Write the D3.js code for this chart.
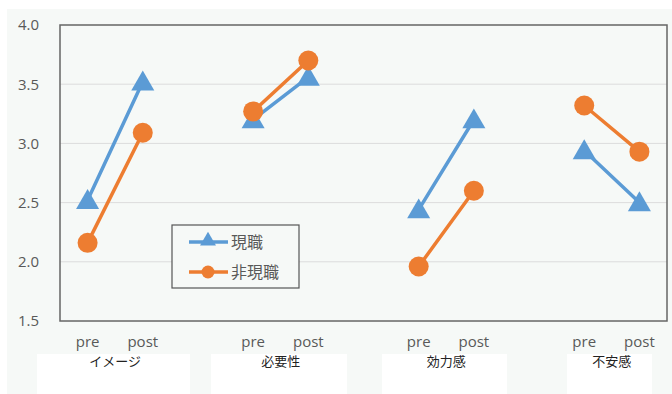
<!DOCTYPE html>
<html lang="ja">
<head>
  <meta charset="UTF-8">
  <title></title>
  <style>
    html, body {
      margin: 0;
      overflow: hidden;
      width: 100%;
      height: 100%;
      background: #fff;
    }
    svg {
      position: absolute;
      top: 0;
      left: 0;
    }
    text {
      font-family: "Noto Sans CJK JP", "Open Sans", sans-serif;
    }
  </style>
</head>
<body>
  <svg></svg>
</body>
<script src="https://d3js.org/d3.v7.min.js"></script>
<script type="text/javascript">
  // slots on the category axis; '' are the gaps between groups
  const slots = ['pre', 'post', '', 'pre', 'post', '', 'pre', 'post', '', 'pre', 'post']
  const groups = ['イメージ', '必要性', '効力感', '不安感']
  const yTicks = [1.5, 2.0, 2.5, 3.0, 3.5, 4.0]

  const current = [2.52, 3.52, null, 3.20, 3.56, null, 2.44, 3.20, null, 2.94, 2.50]
  const nonCurrent = [2.16, 3.09, null, 3.27, 3.70, null, 1.96, 2.60, null, 3.32, 2.93]

  const seriesNames = ['現職', '非現職']
  const colors = ['#5b9bd5', '#ed7d31']

  const width = 672
  const height = 394
  const svg = d3.select('svg').attr('width', width).attr('height', height)

  const plot = { left: 60, top: 25, right: 667, bottom: 321 }

  svg.append('rect')
    .attr('x', 7).attr('y', 9)
    .attr('width', width - 7).attr('height', height - 9)
    .attr('fill', '#f6f9f7')

  const x = d3.scaleBand()
    .domain(d3.range(slots.length))
    .range([plot.left, plot.right])

  const y = d3.scaleLinear()
    .domain([1.5, 4.0])
    .range([plot.bottom, plot.top])

  // gridlines
  svg.append('g')
    .selectAll('line')
    .data(yTicks.slice(1, -1))
    .enter()
    .append('line')
    .attr('x1', plot.left)
    .attr('x2', plot.right)
    .attr('y1', d => y(d))
    .attr('y2', d => y(d))
    .attr('stroke', '#dcdcdc')
    .attr('stroke-width', 1)

  // frame
  svg.append('rect')
    .attr('x', plot.left)
    .attr('y', plot.top)
    .attr('width', plot.right - plot.left)
    .attr('height', plot.bottom - plot.top)
    .attr('fill', 'none')
    .attr('stroke', '#666')
    .attr('stroke-width', 1.5)

  // y axis labels
  const yAxis = svg.append('g')
    .attr('transform', `translate(${plot.left - 18},0)`)
    .call(d3.axisLeft(y).tickValues(yTicks).tickFormat(d3.format('.1f')).tickSize(0))
  yAxis.select('.domain').remove()
  yAxis.selectAll('text')
    .attr('fill', '#595959')
    .style('font-size', '15px')
    .style('font-family', '"Open Sans", sans-serif')

  // x axis labels (pre/post)
  const xAxis = svg.append('g')
    .attr('transform', `translate(0,${plot.bottom + 12})`)
    .call(d3.axisBottom(x).tickFormat(i => slots[i]).tickSize(0))
  xAxis.select('.domain').remove()
  xAxis.selectAll('text')
    .attr('fill', '#595959')
    .style('font-size', '15px')
    .style('font-family', '"Open Sans", sans-serif')

  // group label boxes
  const boxes = [[37, 190], [211, 347], [382, 507], [567, 652]]
  const boxG = svg.append('g')
  boxG.selectAll('rect')
    .data(boxes)
    .enter()
    .append('rect')
    .attr('x', d => d[0])
    .attr('y', 354)
    .attr('width', d => d[1] - d[0])
    .attr('height', 40)
    .attr('fill', '#fff')
  boxG.selectAll('text')
    .data(groups)
    .enter()
    .append('text')
    .attr('x', (d, i) => (x(i * 3) + x(i * 3 + 1)) / 2 + x.bandwidth() / 2)
    .attr('y', 366)
    .attr('text-anchor', 'middle')
    .attr('fill', '#222')
    .style('font-size', '13px')
    .text(d => d)

  const line = d3.line()
    .defined(d => d != null)
    .x((d, i) => x(i) + x.bandwidth() / 2)
    .y(d => y(d))

  const tri = d3.symbol().type(d3.symbolTriangle).size(230)

  function drawSeries(values, color, marker) {
    const g = svg.append('g')
    g.append('path')
      .attr('d', line(values))
      .attr('fill', 'none')
      .attr('stroke', color)
      .attr('stroke-width', 3.5)
    const pts = values.map((v, i) => ({ v, i })).filter(d => d.v != null)
    if (marker === 'triangle') {
      g.selectAll('path.m')
        .data(pts)
        .enter()
        .append('path')
        .attr('class', 'm')
        .attr('d', tri)
        .attr('transform', d => `translate(${x(d.i) + x.bandwidth() / 2},${y(d.v) + 2})`)
        .attr('fill', color)
    } else {
      g.selectAll('circle')
        .data(pts)
        .enter()
        .append('circle')
        .attr('cx', d => x(d.i) + x.bandwidth() / 2)
        .attr('cy', d => y(d.v))
        .attr('r', 10)
        .attr('fill', color)
    }
  }

  drawSeries(current, colors[0], 'triangle')
  drawSeries(nonCurrent, colors[1], 'circle')

  // legend
  const legend = svg.append('g')
  legend.append('rect')
    .attr('x', 172).attr('y', 225)
    .attr('width', 127).attr('height', 63)
    .attr('fill', '#f6f9f7')
    .attr('stroke', '#555')
    .attr('stroke-width', 1.2)
  seriesNames.forEach((name, i) => {
    const ly = 242 + i * 30
    legend.append('line')
      .attr('x1', 189).attr('x2', 228)
      .attr('y1', ly).attr('y2', ly)
      .attr('stroke', colors[i])
      .attr('stroke-width', 3.5)
    if (i === 0) {
      legend.append('path')
        .attr('d', d3.symbol().type(d3.symbolTriangle).size(110))
        .attr('transform', `translate(208,${ly - 1})`)
        .attr('fill', colors[i])
    } else {
      legend.append('circle')
        .attr('cx', 208).attr('cy', ly)
        .attr('r', 6.5)
        .attr('fill', colors[i])
    }
    legend.append('text')
      .attr('x', 231)
      .attr('y', ly + 6)
      .attr('fill', '#595959')
      .style('font-size', '16px')
      .text(name)
  })
</script>
</html>
